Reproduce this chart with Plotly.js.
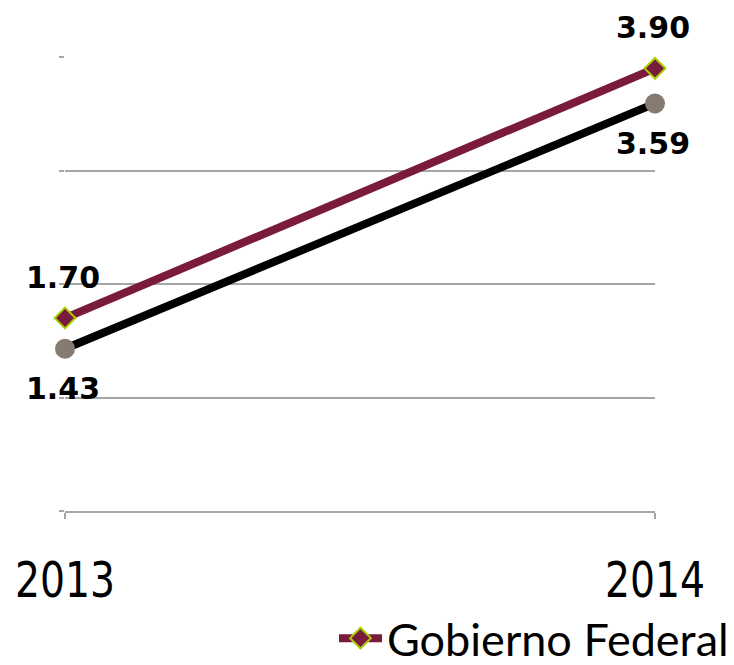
<!DOCTYPE html>
<html>
<head>
<meta charset="utf-8">
<script src="https://cdn.plot.ly/plotly-3.0.1.min.js"></script>
<style>html,body{margin:0;padding:0;background:#fff;}#chart{width:734px;height:665px;}</style>
</head>
<body>
<div id="chart"></div>
<script>
var years = [2013, 2014];
var tickLabels = ["2013", "2014"];
var gobiernoFederal = [1.70, 3.90];
var serie2 = [1.43, 3.59];
var serieNames = ["Gobierno Federal", "Serie 2"];

var traces = [
  {
    x: years, y: serie2, name: serieNames[1], type: "scatter", mode: "lines+markers",
    line: {color: "#000000", width: 8},
    marker: {symbol: "circle", size: 20, color: "#857B70"},
    showlegend: false, cliponaxis: false, hoverinfo: "skip"
  },
  {
    x: years, y: gobiernoFederal, name: serieNames[0], type: "scatter", mode: "lines+markers",
    line: {color: "#7A1A3C", width: 8},
    marker: {symbol: "diamond", size: 16, color: "#7A1A3C", line: {color: "#A8D000", width: 2}},
    showlegend: true, cliponaxis: false, hoverinfo: "skip"
  }
];

var annotations = [];
for (var i = 0; i < years.length; i++) {
  annotations.push({x: years[i], y: gobiernoFederal[i], text: "<b>" + gobiernoFederal[i].toFixed(2) + "</b>", showarrow: false,
    yshift: 41, xshift: -2, font: {family: "DejaVu Sans", size: 30, color: "#000"}, xref: "x", yref: "y"});
  annotations.push({x: years[i], y: serie2[i], text: "<b>" + serie2[i].toFixed(2) + "</b>", showarrow: false,
    yshift: -40, xshift: -2, font: {family: "DejaVu Sans", size: 30, color: "#000"}, xref: "x", yref: "y"});
}

var layout = {
  width: 734, height: 665,
  margin: {l: 65, r: 79, t: 57, b: 154},
  paper_bgcolor: "#fff", plot_bgcolor: "#fff",
  showlegend: true,
  xaxis: {
    range: [2013, 2014], tickvals: years, ticktext: tickLabels,
    showgrid: false, zeroline: false, showline: true, linecolor: "#A6A6A6", linewidth: 2,
    ticks: "outside", ticklen: 6, tickwidth: 2, tickcolor: "#A6A6A6",
    ticklabelstandoff: 18, automargin: false,
    tickfont: {family: "DejaVu Sans Condensed, sans-serif", size: 50, color: "#000"}
  },
  yaxis: {
    range: [0, 4], dtick: 1, showticklabels: false, zeroline: false, showline: false,
    showgrid: true, gridcolor: "#A6A6A6", gridwidth: 2, automargin: false,
    ticks: "outside", ticklen: 5, tickwidth: 2, tickcolor: "#A6A6A6"
  },
  legend: {
    orientation: "h", xref: "container", yref: "container",
    x: 1, xanchor: "right", y: 0.04, yanchor: "middle",
    itemwidth: 43,
    font: {family: "Lato, DejaVu Sans Condensed, sans-serif", size: 45, color: "#000"},
    bgcolor: "rgba(0,0,0,0)"
  },
  annotations: annotations
};

Plotly.newPlot("chart", traces, layout, {displayModeBar: false, staticPlot: true}).then(function(gd){
  var texts = gd.querySelectorAll(".xtick text");
  texts.forEach(function(t){
    t.setAttribute("textLength", "100");
    t.setAttribute("lengthAdjust", "spacingAndGlyphs");
  });
});
</script>
</body>
</html>
